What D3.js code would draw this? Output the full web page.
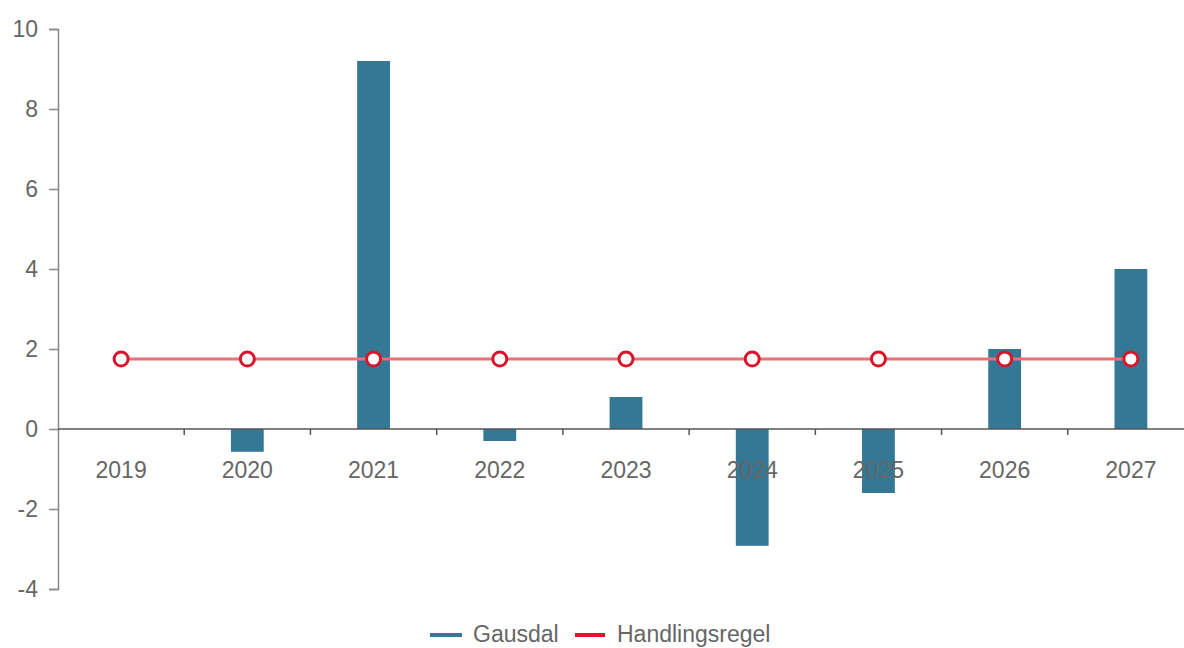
<!DOCTYPE html>
<html>
<head>
<meta charset="utf-8">
<script src="https://cdn.jsdelivr.net/npm/d3@7"></script>
<style>
  body { margin: 0; background: #fff; }
  text { font-family: "Liberation Sans", Arial, sans-serif; fill: #666; }
</style>
</head>
<body>
<div id="chart"></div>
<script>
// data
const years = ['2019', '2020', '2021', '2022', '2023', '2024', '2025', '2026', '2027'];
const gausdal = [0, -0.57, 9.2, -0.3, 0.8, -2.92, -1.6, 2.0, 4.0];
const handlingsregel = [1.75, 1.75, 1.75, 1.75, 1.75, 1.75, 1.75, 1.75, 1.75];
const yTicks = [-4, -2, 0, 2, 4, 6, 8, 10];

const width = 1184;
const height = 648;

const svg = d3.select('#chart')
  .append('svg')
  .attr('width', width)
  .attr('height', height);

const x = d3.scaleBand()
  .domain(years)
  .range([58, 1194])
  .padding(0);

const y = d3.scaleLinear()
  .domain([-4, 10])
  .range([589, 29]);

// y axis
const yAxis = svg.append('g')
  .attr('transform', 'translate(58,0)')
  .call(d3.axisLeft(y).tickValues(yTicks).tickFormat(d => String(d))
    .tickSize(9).tickSizeOuter(9).tickPadding(11));
yAxis.select('.domain').attr('stroke', '#888').attr('stroke-width', 1.5);
yAxis.selectAll('.tick line').attr('stroke', '#888').attr('stroke-width', 1.5);
yAxis.selectAll('.tick text')
  .style('font-size', '23px')
  .style('fill', '#666')
  .style('font-family', '"Liberation Sans", Arial, sans-serif');

// bars
const barW = x.bandwidth() * 0.26;
svg.append('g')
  .selectAll('rect')
  .data(years.map((yr, i) => ({ yr, v: gausdal[i] })))
  .enter()
  .append('rect')
  .attr('x', d => x(d.yr) + x.bandwidth() / 2 - barW / 2)
  .attr('y', d => y(Math.max(0, d.v)))
  .attr('width', barW)
  .attr('height', d => Math.abs(y(d.v) - y(0)))
  .attr('fill', '#347896');

// x axis at zero
const xg = svg.append('g');
xg.append('line')
  .attr('x1', 58).attr('x2', width)
  .attr('y1', y(0)).attr('y2', y(0))
  .attr('stroke', '#555').attr('stroke-width', 1.5);
xg.selectAll('.xtick')
  .data(years.slice(1))
  .enter()
  .append('line')
  .attr('x1', d => x(d)).attr('x2', d => x(d))
  .attr('y1', y(0)).attr('y2', y(0) + 6)
  .attr('stroke', '#555').attr('stroke-width', 1.5);
xg.selectAll('.xlabel')
  .data(years)
  .enter()
  .append('text')
  .attr('x', d => x(d) + x.bandwidth() / 2)
  .attr('y', y(0) + 49)
  .attr('text-anchor', 'middle')
  .style('font-size', '23px')
  .text(d => d);

// handlingsregel line
const line = d3.line()
  .x((d, i) => x(years[i]) + x.bandwidth() / 2)
  .y(d => y(d));

svg.append('path')
  .datum(handlingsregel)
  .attr('d', line)
  .attr('fill', 'none')
  .attr('stroke', '#ec6f73')
  .attr('stroke-width', 3);

svg.append('g')
  .selectAll('circle')
  .data(handlingsregel)
  .enter()
  .append('circle')
  .attr('cx', (d, i) => x(years[i]) + x.bandwidth() / 2)
  .attr('cy', d => y(d))
  .attr('r', 7)
  .attr('fill', '#fff')
  .attr('stroke', '#d7162b')
  .attr('stroke-width', 3);

// legend
const legend = svg.append('g');
legend.append('line')
  .attr('x1', 430).attr('x2', 462)
  .attr('y1', 635).attr('y2', 635)
  .attr('stroke', '#347896').attr('stroke-width', 4);
legend.append('text')
  .attr('x', 473).attr('y', 642)
  .style('font-size', '23px')
  .text('Gausdal');
legend.append('line')
  .attr('x1', 575).attr('x2', 605)
  .attr('y1', 635).attr('y2', 635)
  .attr('stroke', '#e0142b').attr('stroke-width', 4);
legend.append('text')
  .attr('x', 617).attr('y', 642)
  .style('font-size', '23px')
  .text('Handlingsregel');
</script>
</body>
</html>
